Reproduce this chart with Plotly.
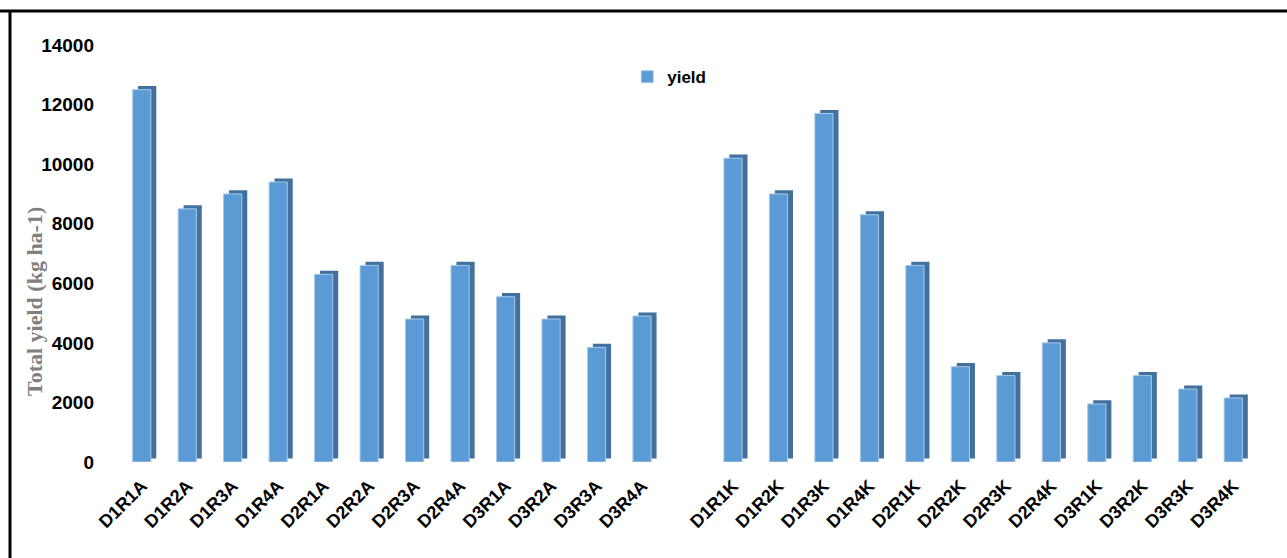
import plotly.graph_objects as go

categories_A = ["D1R1A", "D1R2A", "D1R3A", "D1R4A", "D2R1A", "D2R2A",
                "D2R3A", "D2R4A", "D3R1A", "D3R2A", "D3R3A", "D3R4A"]
yield_A = [12500, 8500, 9000, 9400, 6300, 6600, 4800, 6600, 5550, 4800, 3850, 4900]

categories_K = ["D1R1K", "D1R2K", "D1R3K", "D1R4K", "D2R1K", "D2R2K",
                "D2R3K", "D2R4K", "D3R1K", "D3R2K", "D3R3K", "D3R4K"]
yield_K = [10200, 9000, 11700, 8300, 6600, 3200, 2900, 4000, 1950, 2900, 2450, 2150]

y_ticks = [0, 2000, 4000, 6000, 8000, 10000, 12000, 14000]
y_tick_labels = ["0", "2000", "4000", "6000", "8000", "10000", "12000", "14000"]

x = categories_A + [" "] + categories_K
y = yield_A + [None] + yield_K
depth = 120  # visual depth of the pseudo-3D side (in data units)

fig = go.Figure()
# dark side / depth face
fig.add_trace(go.Bar(
    x=x, y=y, base=[depth] * len(x), width=0.4, offset=-0.08,
    marker=dict(color="#41719C", line=dict(width=0)),
    showlegend=False, hoverinfo="skip"))
# front face
fig.add_trace(go.Bar(
    x=x, y=y, width=0.4, offset=-0.2, name="yield",
    marker=dict(color="#5B9BD5", line=dict(color="#A9C9EA", width=1))))

fig.update_layout(
    barmode="overlay",
    width=1287, height=558,
    margin=dict(l=119, r=31, t=45, b=96),
    paper_bgcolor="white", plot_bgcolor="white",
    font=dict(family="Liberation Sans, Arial", color="black"),
    showlegend=True,
    legend=dict(x=0.447, y=0.923, xanchor="left", yanchor="middle",
                font=dict(size=17, weight="bold"), bgcolor="rgba(0,0,0,0)"),
    xaxis=dict(type="category", categoryorder="array", categoryarray=x,
               tickangle=-45, tickfont=dict(size=18, weight="bold"),
               ticklabelstandoff=9,
               showline=False, showgrid=False, ticks="", range=[-0.5, 24.5]),
    yaxis=dict(range=[0, 14000], tickvals=y_ticks, ticktext=y_tick_labels,
               showgrid=False, showline=False,
               zeroline=False, ticks="", ticklabelstandoff=24,
               tickfont=dict(size=19, weight="bold")),
    shapes=[
        dict(type="line", xref="paper", yref="paper", x0=-119/1137, x1=(1287-119)/1137,
             y0=(462-11)/417, y1=(462-11)/417, line=dict(color="black", width=3)),
        dict(type="line", xref="paper", yref="paper", x0=-109/1137, x1=-109/1137,
             y0=(462-11)/417, y1=-96/417, line=dict(color="black", width=3)),
    ],
    annotations=[dict(text="Total yield (kg ha-1)", textangle=-90, showarrow=False,
                      xref="paper", yref="paper", x=-85/1137, y=(462-302)/417,
                      xanchor="center", yanchor="middle",
                      font=dict(family="Liberation Serif, Times New Roman", size=22,
                                color="#808080", weight="bold"))],
)

fig.write_html("out.html")
